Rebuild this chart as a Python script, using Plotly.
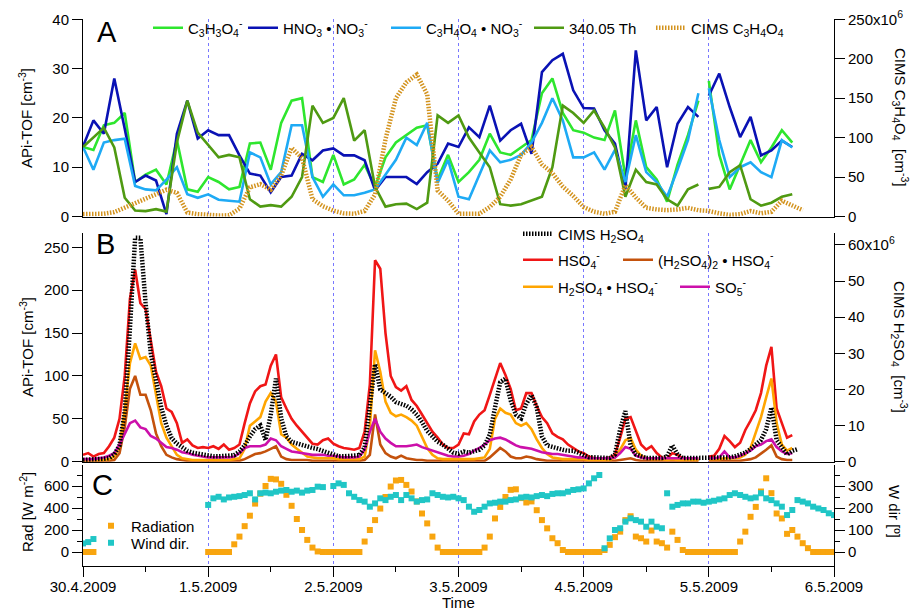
import datetime as dt
import plotly.graph_objects as go

T0 = dt.datetime(2009, 4, 30)
FONT = "Liberation Sans, Arial, sans-serif"

# ---------------- Tick labels ----------------
day_labels = ["30.4.2009", "1.5.2009", "2.5.2009", "3.5.2009", "4.5.2009", "5.5.2009", "6.5.2009"]

# ---------------- Panel A (2-hour values; segment 1: 0..118 h, segment 2: 120..136 h) ----------------
c3h3o4_seg1 = [14.1, 13.5, 18.5, 19.0, 21.0, 7.0, 8.5, 9.5, 6.5, 15.5,
               5.5, 5.0, 8.0, 7.0, 5.5, 6.0, 14.8, 15.0, 9.5, 19.0,
               23.5, 24.0, 8.0, 7.0, 12.5, 6.5, 7.5, 10.5, 6.0, 12.0,
               15.0, 16.5, 18.0, 18.5, 7.5, 12.5, 7.0, 9.0, 11.5, 16.8,
               13.0, 12.5, 14.0, 15.5, 25.0, 28.0, 21.0, 17.5, 17.0, 16.0,
               15.5, 21.5, 8.0, 19.5, 10.0, 7.5, 3.0, 10.5, 16.5, 23.5]
c3h3o4_seg2 = [27.5, 12.5, 5.5, 10.5, 15.5, 11.0, 14.0, 17.5, 15.0]

hno3_seg1 = [14.2, 19.5, 16.8, 28.0, 17.8, 7.0, 8.3, 7.3, 0.5, 16.8,
             23.5, 15.8, 17.5, 16.5, 16.5, 12.4, 8.7, 8.3, 4.9, 8.0,
             8.3, 12.7, 11.4, 13.4, 13.8, 12.4, 12.4, 11.4, 5.3, 8.0,
             8.0, 8.0, 6.6, 9.0, 10.7, 14.8, 14.1, 18.1, 16.1, 22.5,
             15.4, 17.5, 18.8, 12.7, 29.3, 31.7, 33.0, 25.6, 22.0, 21.9,
             17.5, 14.8, 5.6, 33.7, 19.5, 22.2, 10.0, 18.8, 22.2, 20.2]
hno3_seg2 = [24.5, 29.0, 22.2, 16.1, 20.2, 12.4, 13.4, 15.4, 14.1]

c3h4o4no3_seg1 = [14.1, 9.5, 15.0, 15.5, 15.8, 6.2, 5.5, 5.3, 7.5, 10.0,
                  4.5, 3.8, 4.5, 3.4, 3.2, 3.0, 13.0, 12.0, 6.5, 9.0,
                  18.5, 18.5, 8.0, 4.0, 6.5, 4.3, 4.3, 4.8, 5.5, 8.5,
                  11.5, 16.0, 14.5, 19.0, 6.8, 11.5, 4.0, 3.5, 8.5, 13.4,
                  11.0, 11.5, 12.5, 15.0, 19.0, 24.0, 19.5, 12.0, 12.0, 13.0,
                  9.5, 13.5, 7.0, 16.5, 9.0, 7.0, 4.0, 9.5, 15.5, 25.0]
c3h4o4no3_seg2 = [26.0, 15.5, 8.0, 10.0, 11.0, 9.0, 8.0, 15.5, 14.0]

th340_seg1 = [14.1, 16.0, 18.0, 14.0, 3.8, 1.2, 1.1, 1.5, 1.0, 15.0,
              23.5, 17.0, 14.5, 12.0, 12.5, 12.0, 3.5, 2.0, 2.3, 2.0,
              4.0, 8.0, 22.5, 19.0, 20.0, 24.0, 15.4, 17.5, 6.0, 2.0,
              2.5, 2.6, 1.5, 2.8, 20.5, 19.0, 20.5, 16.0, 13.0, 10.0,
              2.5, 2.2, 2.5, 3.2, 4.0, 10.0, 22.5, 21.0, 19.0, 21.5,
              18.0, 14.0, 4.0, 9.5, 7.0, 6.5, 3.5, 2.2, 5.5, 6.5]
th340_seg2 = [5.6, 6.0, 9.0, 10.4, 3.5, 2.2, 2.8, 4.0, 4.5]

# CIMS C3H4O4 [1e6 cm-3], 2-hour values from 0 h
cims_c3h4o4 = [3.0, 3.0, 3.5, 5.5, 11.5, 16.5, 23.0, 28.5, 34.0, 30.0,
               5.0, 3.0, 1.5, 1.3, 1.5, 10.0, 37.0, 41.0, 34.0, 52.0,
               87.0, 74.0, 22.0, 13.0, 7.5, 4.0, 3.5, 7.0, 28.0, 98.0,
               150.0, 170.0, 180.0, 155.0, 33.0, 20.0, 3.5, 3.0, 3.5, 12.0,
               25.0, 47.0, 78.0, 88.0, 66.0, 55.0, 38.0, 26.0, 12.0, 6.0,
               3.5, 6.0, 40.0, 24.0, 11.0, 9.0, 8.0, 9.0, 11.0, 8.0,
               7.0, 4.0, 2.0, 3.0, 7.0, 4.0, 6.0, 20.0, 14.0, 8.0]

# ---------------- Panel B (hourly values from 0 h) ----------------
hso4 = [8, 10, 6, 9, 10, 18, 28, 50, 100, 190,
        224, 185, 178, 140, 105, 88, 62, 58, 45, 22,
        26, 19, 16, 17, 16, 18, 15, 20, 14, 16,
        20, 45, 68, 82, 88, 90, 112, 125, 75, 62,
        50, 42, 35, 27, 21, 20, 25, 27, 21, 18,
        16, 15, 14, 16, 35, 90, 235, 225, 150, 100,
        87, 83, 88, 72, 65, 55, 45, 35, 28, 20,
        16, 16, 20, 33, 32, 47, 55, 60, 78, 98,
        115, 101, 85, 60, 62, 80, 80, 65, 52, 45,
        33, 29, 26, 20, 16, 12, 10, 6, 4, 4,
        4, 5, 8, 28, 50, 52, 35, 20, 14, 18,
        10, 5, 4, 10, 8, 4, 4, 3, 2, None,
        6, 7, 15, 30, 24, 17, 22, 37, 48, 60,
        80, 112, 134, 62, 45, 28, 31]

h2so4_hso4 = [2, 2, 2, 2, 2, 3, 6, 18, 60, 115,
              138, 120, 122, 112, 80, 45, 28, 18, 8, 4,
              3, 2, 2, 2, 2, 2, 2, 2, 2, 3,
              4, 15, 42, 47, 52, 70, 80, 70, 32, 28,
              20, 15, 10, 6, 5, 4, 4, 4, 4, 3,
              3, 3, 3, 3, 6, 40, 130, 105, 70, 57,
              53, 55, 52, 48, 42, 28, 16, 8, 4, 3,
              3, 3, 3, 3, 3, 3, 4, 5, 15, 50,
              62, 57, 55, 45, 42, 45, 38, 26, 16, 9,
              5, 4, 3, 3, 3, 3, 3, 2, 2, 2,
              2, 2, 5, 14, 25, 28, 14, 7, 4, 3,
              3, 3, 2, 3, 2, 2, 2, 2, 2, None,
              3, 3, 3, 4, 4, 4, 5, 8, 16, 35,
              52, 75, 97, 45, 20, 13, 16]

h2so4_2_hso4 = [1, 1, 1, 1, 1, 1, 2, 10, 40, 85,
                100, 78, 78, 60, 33, 18, 8, 5, 3, 2,
                1, 1, 1, 1, 1, 1, 1, 1, 1, 1,
                1, 3, 6, 9, 10, 12, 15, 18, 6, 3,
                2, 2, 2, 2, 1, 1, 1, 1, 1, 1,
                1, 1, 1, 1, 2, 8, 55, 20, 10, 6,
                4, 7, 4, 3, 2, 2, 1, 1, 1, 1,
                1, 1, 1, 1, 1, 1, 1, 1, 5, 11,
                16, 12, 6, 4, 4, 6, 5, 3, 2, 1,
                1, 1, 1, 1, 1, 1, 1, 1, 1, 1,
                1, 1, 1, 2, 3, 4, 2, 1, 1, 1,
                1, 1, 1, 1, 1, 1, 1, 1, 1, None,
                1, 1, 1, 1, 1, 1, 1, 2, 3, 5,
                9, 14, 19, 6, 3, 2, 2]

so5 = [3, 3, 3, 4, 5, 7, 10, 20, 32, 45,
       48, 40, 38, 30, 27, 22, 17, 16, 14, 11,
       10, 8, 7, 6, 5, 5, 5, 5, 5, 6,
       10, 16, 18, 18, 18, 20, 27, 25, 18, 15,
       12, 11, 10, 9, 8, 8, 8, 7, 7, 6,
       5, 5, 5, 6, 14, 35, 50, 35, 27, 22,
       18, 18, 18, 19, 20, 17, 15, 13, 11, 9,
       7, 6, 6, 7, 9, 13, 16, 20, 25, 27,
       28, 26, 22, 19, 17, 16, 15, 13, 11, 10,
       9, 9, 8, 7, 6, 5, 5, 4, 4, 4,
       4, 4, 5, 10, 17, 15, 7, 5, 4, 4,
       4, 4, 4, 4, 4, 4, 4, 4, 4, None,
       4, 4, 5, 12, 5, 5, 7, 10, 13, 18,
       20, 24, 26, 17, 12, 9, 10]

# CIMS H2SO4 [1e6 cm-3], hourly from 0 h
cims_h2so4 = [0.5, 0.5, 0.5, 0.5, 0.8, 1, 2, 4.5, 14, 37,
              62, 62, 44, 30, 22, 15, 10, 6.5, 5, 3.8,
              3, 2.5, 2.2, 2, 1.8, 1.5, 1.5, 1.5, 1.5, 1.8,
              2.8, 4.5, 7, 9, 10, 6, 13, 23, 12, 7,
              5.5, 5, 4.5, 4, 3.8, 3.5, 3, 2.5, 2, 1.5,
              1.5, 1.5, 1.5, 1.8, 4, 15, 27, 20, 19, 18,
              16.5, 16, 15.5, 14.5, 13, 11, 8.5, 7, 5.5, 4.7,
              3.5, 2.5, 2.2, 2.8, 2.5, 3, 3.3, 4.5, 7.5, 15,
              22, 23, 17, 13, 12, 16, 18.5, 15, 7, 4.5,
              4, 3.6, 3.3, 3, 3, 2.5, 2, 1.2, 1.2, 1.2,
              1, 1, 2, 9, 14, 4.5, 2, 1.5, 1, 1,
              1, 1, 1.5, 4.5, 2, 1, 1, 1, 1, 1,
              1, 1, 1, 1, 1.2, 1.5, 2, 2.5, 3.5, 4.7,
              6, 9, 15, 6, 4, 2, 3, 3.5]

# ---------------- Panel C (hourly) ----------------
rad_first = [0, 0, 0]           # 0..2 h
rad_main = [0, 0, 0, 0, 0,      # from 24 h
            70, 140, 235, 330, 440, 530, 600, 665, 660, 620, 520, 420, 300, 200, 110, 40, 5, 0, 0,
            0, 0, 0, 0, 0, 0,
            95, 200, 290, 395, 500, 595, 650, 655, 610, 550, 460, 350, 260, 140, 40, 0,
            0, 0, 0, 0, 0, 0, 0,
            40, 140, 305, 410, 500, 565, 570, 490, 450, 460, 380, 290, 215, 125, 80, 18, 0,
            0, 0, 0, 0, 0, 0,
            18, 65, 135, 185, 290, 325, 140, 125, 95, 195, 95, 80, 40, 185, 110, 18, 0,
            0, 0, 0, 0, 0, 0, 0, 0, 0,
            95, 185, 320, 410, 550, 670, 535, 350, 305, 165, 200, 140, 80, 35, 0, 0, 0, 0, 0]

wind_first = [39, 45, 59]       # 0..2 h
wind_main = [214, 244, 251, 239, 248, 251, 254, 259, 267, 239, 267, 270, 267, 274, 279, 282, 274, 279, 270, 279, 282, 297, 295,
             None,
             300, 312, 305, 267, 251, 236, 229, 206, 221, 244, 236, 251, 259, 236, 259, 244, 229, 236, 239, 267, 259, 251, 248, 251,
             244, 236, 206, 183, 191, 206, 221, 224, 229, 229, 236, 239, 248, 251, 248, 254, 259, 254, 264, 267, 267, 274, 282, 285, 289, 312, 335, 350,
             17, 62, 100, 108, 138, 153, 145, 138, 115, 138, 115, 108,
             267, 206, 214, 221, 221, 229, 229, 224, 229, 233, 239, 244, 259, 267, 259, 251, 244, 248, 267, 244,
             236, 221, 206, 168, 191, 236, 229, 221, 206, 198, 191, 176, 168]


def times(start_h, step_h, n):
    return [T0 + dt.timedelta(hours=start_h + step_h * i) for i in range(n)]


def gapped(seg1, seg2):
    x = times(0, 2, len(seg1)) + [T0 + dt.timedelta(hours=119)] + times(120, 2, len(seg2))
    return x, list(seg1) + [None] + list(seg2)


def ypx(px):
    return 1 - px / 612.0


def xpx(px):
    return px / 911.0


XD = [xpx(83), xpx(834)]
domA = [ypx(216.5), ypx(19.3)]
domB = [ypx(461.7), ypx(233)]
domC = [ypx(566), ypx(465)]

fig = go.Figure()

# Panel A
def line_a(seg1, seg2, name, color, leg):
    x, y = gapped(seg1, seg2)
    fig.add_trace(go.Scatter(x=x, y=y, mode="lines", name=name, xaxis="x2", yaxis="y3",
                             line=dict(color=color, width=2.6), legend=leg, showlegend=True))

line_a(c3h3o4_seg1, c3h3o4_seg2, "C<sub>3</sub>H<sub>3</sub>O<sub>4</sub><sup>-</sup>", "#2EE62E", "legend")
line_a(hno3_seg1, hno3_seg2, "HNO<sub>3</sub> • NO<sub>3</sub><sup>-</sup>", "#0A12B4", "legend2")
line_a(c3h4o4no3_seg1, c3h4o4no3_seg2, "C<sub>3</sub>H<sub>4</sub>O<sub>4</sub> • NO<sub>3</sub><sup>-</sup>", "#1EAAF5", "legend3")
line_a(th340_seg1, th340_seg2, "340.05 Th", "#4F9A12", "legend4")
fig.add_trace(go.Scatter(x=times(0, 2, len(cims_c3h4o4)), y=cims_c3h4o4, mode="lines",
                         name="CIMS C<sub>3</sub>H<sub>4</sub>O<sub>4</sub>", xaxis="x2", yaxis="y4",
                         line=dict(color="#D3931E", width=4.5, dash="1.5px,1.5px"), legend="legend5"))

# Panel B
fig.add_trace(go.Scatter(x=times(0, 1, len(hso4)), y=hso4, mode="lines", name="HSO<sub>4</sub><sup>-</sup>",
                         xaxis="x3", yaxis="y5", line=dict(color="#F01616", width=2.6), legend="legend7"))
fig.add_trace(go.Scatter(x=times(0, 1, len(h2so4_2_hso4)), y=h2so4_2_hso4, mode="lines",
                         name="(H<sub>2</sub>SO<sub>4</sub>)<sub>2</sub> • HSO<sub>4</sub><sup>-</sup>",
                         xaxis="x3", yaxis="y5", line=dict(color="#C4520C", width=2.6), legend="legend8"))
fig.add_trace(go.Scatter(x=times(0, 1, len(h2so4_hso4)), y=h2so4_hso4, mode="lines",
                         name="H<sub>2</sub>SO<sub>4</sub> • HSO<sub>4</sub><sup>-</sup>",
                         xaxis="x3", yaxis="y5", line=dict(color="#FFA500", width=2.6), legend="legend9"))
fig.add_trace(go.Scatter(x=times(0, 1, len(so5)), y=so5, mode="lines", name="SO<sub>5</sub><sup>-</sup>",
                         xaxis="x3", yaxis="y5", line=dict(color="#CC10AA", width=2.6), legend="legend10"))
fig.add_trace(go.Scatter(x=times(0, 1, len(cims_h2so4)), y=cims_h2so4, mode="lines",
                         name="CIMS H<sub>2</sub>SO<sub>4</sub>", xaxis="x3", yaxis="y6",
                         line=dict(color="black", width=4.5, dash="1.5px,1.5px"), legend="legend6"))

# Panel C
rx = times(0, 1, len(rad_first)) + times(24, 1, len(rad_main))
wx = times(0, 1, len(wind_first)) + times(24, 1, len(wind_main))
fig.add_trace(go.Scatter(x=rx, y=rad_first + rad_main, mode="markers", name="Radiation", xaxis="x", yaxis="y",
                         marker=dict(symbol="square", size=6, color="#F8A50F"), legend="legend11"))
fig.add_trace(go.Scatter(x=wx, y=wind_first + wind_main, mode="markers", name="Wind dir.", xaxis="x", yaxis="y2",
                         marker=dict(symbol="square", size=6, color="#20C6C6"), legend="legend12"))

day_ticks = times(0, 24, len(day_labels))
half_ticks = times(12, 24, 6)
tf = dict(family=FONT, size=15, color="black")
xr = [T0, T0 + dt.timedelta(days=6)]

xcommon = dict(type="date", range=xr, domain=XD, showgrid=True, gridcolor="rgb(120,120,255)",
               griddash="dot", gridwidth=1, tickmode="array", tickvals=day_ticks,
               showline=True, linecolor="black", linewidth=1, zeroline=False, automargin=False)

ycommon = dict(showgrid=False, zeroline=False, showline=True, linecolor="black", linewidth=1,
               ticks="outside", ticklen=10, tickcolor="black", tickfont=tf, tickmode="array",
               automargin=False)


def leg(x_px, y_px):
    # x_px: left end of the legend sample line, y_px: vertical centre of the entry
    return dict(orientation="h", x=xpx(x_px - 7), y=ypx(y_px), xanchor="left", yanchor="middle",
                bgcolor="rgba(0,0,0,0)", font=tf, itemwidth=30, visible=True)


fig.update_layout(
    width=911, height=612, margin=dict(l=0, r=0, t=0, b=0, autoexpand=False),
    paper_bgcolor="white", plot_bgcolor="white", showlegend=True,
    font=dict(family=FONT, size=15, color="black"),
    xaxis=dict(**xcommon, anchor="y", ticks="outside", ticklen=10, tickcolor="black",
               ticktext=day_labels, tickfont=tf, ticklabelstandoff=-3,
               minor=dict(tickmode="array", tickvals=half_ticks, ticks="outside", ticklen=5,
                          tickcolor="black", showgrid=False)),
    xaxis2=dict(**xcommon, anchor="y3", matches="x", showticklabels=False, ticks=""),
    xaxis3=dict(**xcommon, anchor="y5", matches="x", showticklabels=False, ticks=""),
    yaxis=dict(**ycommon, domain=domC, anchor="x", range=[-127.3, 790.9], tickvals=[0, 200, 400, 600],
               minor=dict(tickmode="array", tickvals=[100, 300, 500, 700], ticks="outside", ticklen=5,
                          tickcolor="black")),
    yaxis2=dict(**ycommon, overlaying="y", side="right", anchor="x", range=[-63.6, 395.5],
                tickvals=[0, 100, 200, 300],
                minor=dict(tickmode="array", tickvals=[50, 150, 250, 350], ticks="outside", ticklen=5,
                           tickcolor="black")),
    yaxis3=dict(**ycommon, domain=domA, anchor="x2", range=[0, 40], tickvals=[0, 10, 20, 30, 40]),
    yaxis4=dict(**ycommon, overlaying="y3", side="right", anchor="x2", range=[0, 250],
                tickvals=[0, 50, 100, 150, 200, 250],
                ticktext=["0", "50", "100", "150", "200", "250x10<sup>6</sup>"]),
    yaxis5=dict(**ycommon, domain=domB, anchor="x3", range=[0, 266.7], tickvals=[0, 50, 100, 150, 200, 250]),
    yaxis6=dict(**ycommon, overlaying="y5", side="right", anchor="x3", range=[0, 63.3],
                tickvals=[0, 10, 20, 30, 40, 50, 60],
                ticktext=["0", "10", "20", "30", "40", "50", "60x10<sup>6</sup>"]),
    legend=leg(155, 28), legend2=leg(250, 28), legend3=leg(393, 28), legend4=leg(536, 28), legend5=leg(658, 28),
    legend6=leg(525, 234), legend7=leg(525, 260), legend8=leg(625, 260),
    legend9=leg(525, 287), legend10=leg(682, 287),
    legend11=leg(98, 526), legend12=leg(98, 543),
)

ann = []
def text(x, y, s, size=15, angle=0, xanchor="center"):
    ann.append(dict(x=xpx(x), y=ypx(y), xref="paper", yref="paper", text=s, showarrow=False,
                    textangle=angle, xanchor=xanchor, yanchor="middle",
                    font=dict(family=FONT, size=size, color="black")))

text(107, 32, "A", size=29)
text(105, 244, "B", size=29)
text(102, 485, "C", size=29)
text(26, 118, "APi-TOF [cm<sup>-3</sup>]", angle=-90)
text(26, 347, "APi-TOF [cm<sup>-3</sup>]", angle=-90)
text(26, 512, "Rad [W m<sup>-2</sup>]", angle=-90)
text(900, 117, "CIMS C<sub>3</sub>H<sub>4</sub>O<sub>4</sub>  [cm<sup>-3</sup>]", angle=90)
text(900, 347, "CIMS H<sub>2</sub>SO<sub>4</sub>  [cm<sup>-3</sup>]", angle=90)
text(895, 511, "W dir [º]", angle=90)
text(458, 602, "Time")
fig.update_layout(annotations=ann)

fig.write_html("out.html", config={"displayModeBar": False},
               post_script="document.body.style.margin='0px';document.body.style.overflow='hidden';")
